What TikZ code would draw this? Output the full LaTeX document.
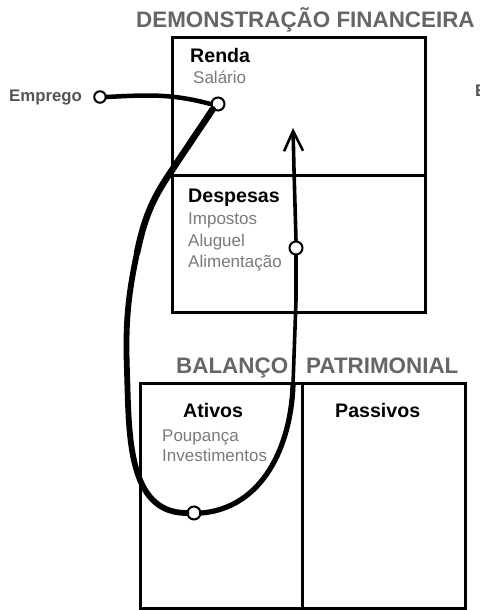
\documentclass[tikz,border=0pt]{standalone}
\usepackage{fontspec}
\setmainfont{Liberation Sans}
\usetikzlibrary{arrows.meta}
\definecolor{titlegray}{HTML}{666666}
\definecolor{itemgray}{HTML}{7A7A7A}
\definecolor{empgray}{HTML}{555555}
\begin{document}
\begin{tikzpicture}[x=1pt,y=-1pt,
  boxline/.style={draw=black,line width=3pt},
  titletext/.style={anchor=base west,inner sep=0pt,text=titlegray,font=\fontsize{22.4}{26}\selectfont\bfseries},
  headtext/.style={anchor=base west,inner sep=0pt,text=black,font=\fontsize{19.6}{23}\selectfont\bfseries},
  itemtext/.style={anchor=base west,inner sep=0pt,text=itemgray,font=\fontsize{17}{20}\selectfont},
  emptext/.style={anchor=base west,inner sep=0pt,text=empgray,font=\fontsize{16.8}{20}\selectfont\bfseries},
  dot/.style={circle,draw=black,fill=white,line width=2pt,minimum size=13pt,inner sep=0pt},
  brush/.style={draw=black,line width=5.8pt,line cap=round,line join=round},
  thin/.style={draw=black,line width=3.6pt,line cap=round}
]
\useasboundingbox (0,0) rectangle (479,610);
\fill[white] (0,0) rectangle (479,610);

% income statement
\node[titletext] (t1) at (136,28) {DEMONSTRAÇÃO FINANCEIRA};
\draw[boxline] (172,38) rectangle (425,312);
\draw[boxline] (172,175) -- (425,175);
\node[headtext] (renda) at (190,63) {Renda};
\node[itemtext] (salario) at (193,83) {Salário};
\node[headtext] (desp) at (188,202) {Despesas};
\node[itemtext] (imp) at (188,224) {Impostos};
\node[itemtext] (alu) at (188,246) {Aluguel};
\node[itemtext] (ali) at (188,267) {Alimentação};

% balance sheet
\node[titletext] (t2a) at (176,373) {BALANÇO};
\node[titletext] (t2b) at (306,373) {PATRIMONIAL};
\draw[boxline] (140,383) rectangle (465,608);
\draw[boxline] (302,383) -- (302,608);
\node[headtext] (ativos) at (183,417) {Ativos};
\node[headtext] (passivos) at (335,417) {Passivos};
\node[itemtext] (poup) at (162,441) {Poupança};
\node[itemtext] (invest) at (162,461) {Investimentos};

% emprego
\node[emptext] (emp) at (9,101) {Emprego};
\node[emptext] (ecut) at (475,96) {E};

% flow
\node[dot,minimum size=11.5pt] (c0) at (100,97) {};
\node[dot] (c1) at (218,104) {};
\node[dot] (c3) at (194,513) {};
\coordinate (tip) at (293,128);
\coordinate (k0) at (170,173);
\coordinate (k1) at (137,253);
\coordinate (k2) at (127,372);
\coordinate (k3) at (293,385);

\draw[brush,line width=4.5pt] (c0.east) to[out=3,in=165] (c1.west);
\draw[brush,line width=6.5pt] (c1.south west) -- (k0) to[out=236,in=78] (k1);
\draw[brush] (k1) to[out=258,in=92] (k2) to[out=272,in=180] (c3.west);
\draw[brush,line width=5.2pt] (c3.east) to[out=5,in=268] (k3);
\draw[thin] (k3) -- (296,300) coordinate (k4);
\node[dot] (c2) at (296,248) {};
\draw[thin] (k4) -- (c2.south);
\draw[thin,-{Straight Barb[length=20pt,width=19pt,line width=2.6pt]}] (c2.north) -- (294,170) -- (tip);
\end{tikzpicture}
\end{document}
